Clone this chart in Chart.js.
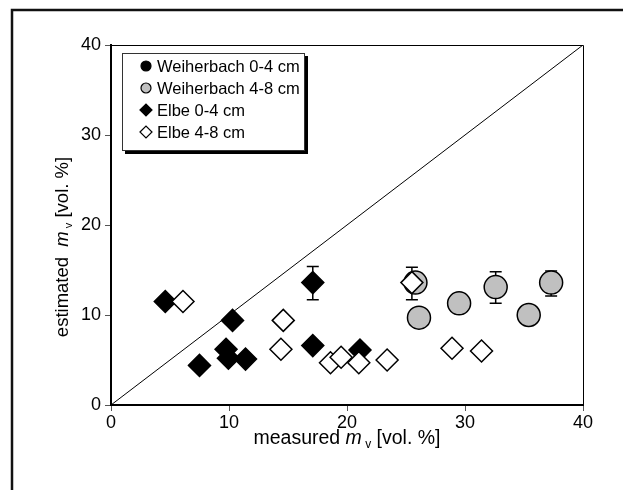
<!DOCTYPE html>
<html>
<head>
<meta charset="utf-8">
<script src="https://cdn.jsdelivr.net/npm/chart.js@4.4.1/dist/chart.umd.min.js"></script>
<style>
  html, body { margin: 0; padding: 0; background: #fff; }
  #wrap { width: 623px; height: 490px; }
</style>
</head>
<body>
<div id="wrap"><canvas id="c"></canvas></div>
<script>
/* measured vs estimated soil moisture */

const FONT = '"Liberation Sans", Arial, sans-serif';

// Weiherbach 0-4 cm: no points visible in the picture
const weiX04 = [];
const weiY04 = [];

const weiX48 = [25.8, 26.1, 29.5, 32.6, 35.4, 37.3];
const weiY48 = [13.6, 9.7, 11.3, 13.1, 10.0, 13.6];
const weiLo48 = [null, null, null, 11.3, null, 12.1];
const weiHi48 = [null, null, null, 14.8, null, 14.9];

const elbeX04 = [4.6, 7.5, 9.75, 9.95, 10.3, 11.4, 17.1, 17.1, 21.1];
const elbeY04 = [11.5, 4.4, 6.2, 5.2, 9.4, 5.1, 13.6, 6.6, 6.1];
const elbeLo04 = [null, null, null, null, null, null, 11.7, null, null];
const elbeHi04 = [null, null, null, null, null, null, 15.4, null, null];

const elbeX48 = [6.1, 14.4, 14.6, 18.6, 19.5, 21.0, 23.4, 25.5, 28.9, 31.4];
const elbeY48 = [11.5, 6.2, 9.4, 4.7, 5.3, 4.7, 5.0, 13.6, 6.3, 6.0];
const elbeLo48 = [null, null, null, null, null, null, null, 11.7, null, null];
const elbeHi48 = [null, null, null, null, null, null, null, 15.3, null, null];

const lineX = [0, 40];
const lineY = [0, 40];

const xTicks = [0, 10, 20, 30, 40];
const yTicks = [0, 10, 20, 30, 40];

const pts = (xs, ys) => xs.map((x, i) => ({ x: x, y: ys[i] }));

const datasets = [
  {
    label: "Elbe 4-8 cm", data: pts(elbeX48, elbeY48), lo: elbeLo48, hi: elbeHi48,
    pointStyle: "rectRot", pointRadius: 11, backgroundColor: "#fff",
    borderColor: "#000", borderWidth: 1.5, order: 1,
  },
  {
    label: "Elbe 0-4 cm", data: pts(elbeX04, elbeY04), lo: elbeLo04, hi: elbeHi04,
    pointStyle: "rectRot", pointRadius: 11, backgroundColor: "#000",
    borderColor: "#000", borderWidth: 1.5, order: 2,
  },
  {
    label: "Weiherbach 4-8 cm", data: pts(weiX48, weiY48), lo: weiLo48, hi: weiHi48,
    pointStyle: "circle", pointRadius: 11.5, backgroundColor: "#c0c0c0",
    borderColor: "#000", borderWidth: 1.5, order: 3,
  },
  {
    label: "Weiherbach 0-4 cm", data: pts(weiX04, weiY04),
    pointStyle: "circle", pointRadius: 11.5, backgroundColor: "#000",
    borderColor: "#000", borderWidth: 1.5, order: 4,
  },
  {
    type: "line", label: "1:1", data: pts(lineX, lineY), showLine: true,
    borderColor: "#000", borderWidth: 1, pointRadius: 0, order: 5,
  },
];

const legendRows = ["Weiherbach 0-4 cm", "Weiherbach 4-8 cm", "Elbe 0-4 cm", "Elbe 4-8 cm"];

function drawTitle(ctx, x, y, pre, it, sub, post, size) {
  const fn = size + "px " + FONT;
  const fi = "italic " + size + "px " + FONT;
  const fs = Math.round(size * 0.6) + "px " + FONT;
  ctx.font = fn; const w1 = ctx.measureText(pre).width;
  ctx.font = fi; const w2 = ctx.measureText(it).width;
  ctx.font = fs; const w3 = ctx.measureText(sub).width;
  ctx.font = fn; const w4 = ctx.measureText(post).width;
  let cx = x - (w1 + w2 + w3 + w4) / 2;
  ctx.textBaseline = "alphabetic";
  ctx.textAlign = "left";
  ctx.font = fn; ctx.fillText(pre, cx, y); cx += w1;
  ctx.font = fi; ctx.fillText(it, cx, y); cx += w2;
  ctx.font = fs; ctx.fillText(sub, cx, y + size * 0.2); cx += w3;
  ctx.font = fn; ctx.fillText(post, cx, y);
}

const extras = {
  id: "extras",
  // error bars go behind the markers
  beforeDatasetsDraw(chart) {
    const ctx = chart.ctx, xs = chart.scales.x, ys = chart.scales.y;
    ctx.save();
    ctx.strokeStyle = "#000";
    ctx.lineWidth = 1.5;
    chart.data.datasets.forEach((ds) => {
      if (!ds.lo) return;
      ds.data.forEach((p, i) => {
        if (ds.lo[i] == null) return;
        const px = xs.getPixelForValue(p.x);
        const y1 = ys.getPixelForValue(ds.lo[i]);
        const y2 = ys.getPixelForValue(ds.hi[i]);
        ctx.beginPath();
        ctx.moveTo(px, y1); ctx.lineTo(px, y2);
        ctx.moveTo(px - 6, y1); ctx.lineTo(px + 6, y1);
        ctx.moveTo(px - 6, y2); ctx.lineTo(px + 6, y2);
        ctx.stroke();
      });
    });
    ctx.restore();
  },
  afterDraw(chart) {
    const ctx = chart.ctx, a = chart.chartArea;
    ctx.save();
    // thin top and right plot frame
    ctx.strokeStyle = "#000";
    ctx.lineWidth = 1;
    ctx.beginPath();
    ctx.moveTo(a.left, a.top + 0.5); ctx.lineTo(a.right + 0.5, a.top + 0.5); ctx.lineTo(a.right + 0.5, a.bottom);
    ctx.stroke();
    // outer chart frame (cut off at right and bottom)
    ctx.lineWidth = 2.5;
    ctx.strokeStyle = "#111";
    ctx.beginPath();
    ctx.moveTo(12, 490); ctx.lineTo(12, 10); ctx.lineTo(623, 10);
    ctx.stroke();

    // legend box with shadow
    const bx = 122, by = 53, bw = 182, bh = 97;
    ctx.fillStyle = "#000";
    ctx.fillRect(bx + 3, by + bh, bw, 4);
    ctx.fillRect(bx + bw, by + 3, 4, bh + 1);
    ctx.fillStyle = "#fff";
    ctx.fillRect(bx, by, bw, bh);
    ctx.strokeStyle = "#333";
    ctx.lineWidth = 1;
    ctx.strokeRect(bx + 0.5, by + 0.5, bw, bh);
    legendRows.forEach((name, i) => {
      const ds = chart.data.datasets.find((d) => d.label === name);
      const cy = by + 13 + i * 22;
      const opts = { pointStyle: ds.pointStyle, radius: ds.pointStyle === "circle" ? 5 : 6, rotation: 0, borderWidth: 1.2 };
      ctx.fillStyle = ds.backgroundColor;
      ctx.strokeStyle = "#000";
      ctx.lineWidth = 1.2;
      Chart.helpers.drawPoint(ctx, opts, 146, cy);
      ctx.fillStyle = "#000";
      ctx.font = "16.5px " + FONT;
      ctx.textAlign = "left";
      ctx.textBaseline = "middle";
      ctx.fillText(name, 157, cy + 1);
    });

    // axis titles
    ctx.fillStyle = "#000";
    drawTitle(ctx, (a.left + a.right) / 2, 444, "measured ", "m", " v", " [vol. %]", 19.5);
    ctx.translate(68, 247);
    ctx.rotate(-Math.PI / 2);
    drawTitle(ctx, 0, 0, "estimated  ", "m", " v", " [vol. %]", 18.5);
    ctx.restore();
  },
};

const axis = (ticks, fit, pad) => ({
  type: "linear",
  min: ticks[0],
  max: ticks[ticks.length - 1],
  afterBuildTicks: (s) => { s.ticks = ticks.map((v) => ({ value: v })); },
  afterFit: fit,
  ticks: { color: "#000", font: { family: FONT, size: 18 }, padding: pad },
  grid: { drawOnChartArea: false, drawTicks: true, tickLength: 6, color: "#555", lineWidth: 1 },
  border: { display: true, color: "#000", width: 2 },
});

new Chart(document.getElementById("c"), {
  type: "scatter",
  data: { datasets: datasets },
  options: {
    responsive: true,
    maintainAspectRatio: false,
    animation: false,
    layout: { padding: { top: 45, right: 40, left: 0, bottom: 0 } },
    plugins: { legend: { display: false }, tooltip: { enabled: false } },
    scales: {
      x: axis(xTicks, (s) => { s.height = 85; }, 1),
      y: axis(yTicks, (s) => { s.width = 111; }, 4),
    },
  },
  plugins: [extras],
});
</script>
</body>
</html>
